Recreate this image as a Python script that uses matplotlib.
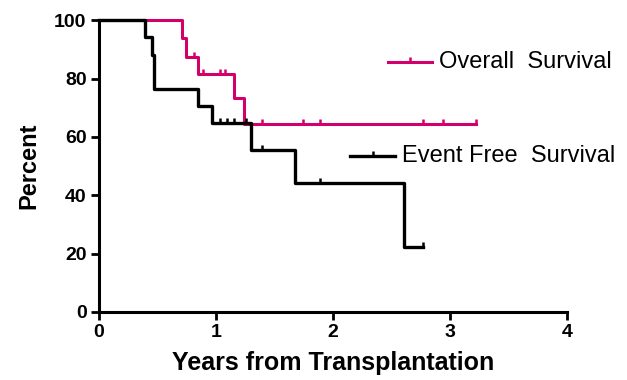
import matplotlib
matplotlib.use("Agg")
import matplotlib.pyplot as plt
from matplotlib.path import Path

# -----------------------
# Data
# -----------------------
# Overall survival: step times (years) and survival (%) after each step
os_times = [0.0, 0.71, 0.74, 0.85, 1.15, 1.24, 3.22]
os_surv = [100.0, 93.75, 87.5, 81.7, 73.2, 64.3, 64.3]
os_censor_t = [0.81, 0.89, 1.03, 1.08, 1.39, 1.74, 1.89, 2.77, 2.94, 3.22]

# Event free survival
efs_times = [0.0, 0.39, 0.45, 0.47, 0.85, 0.97, 1.30, 1.675, 2.61, 2.77]
efs_surv = [100.0, 94.1, 88.2, 76.5, 70.6, 64.7, 55.4, 44.2, 22.2, 22.2]
efs_censor_t = [1.03, 1.09, 1.15, 1.26, 1.39, 1.89, 2.77]

xticks = [0, 1, 2, 3, 4]
yticks = [0, 20, 40, 60, 80, 100]

pink = "#d1006b"
black = "#000000"


def surv_at(times, surv, t):
    val = surv[0]
    for ti, si in zip(times, surv):
        if ti <= t:
            val = si
    return val


# upward tick used for censored observations
up_tick = Path([(0, 0), (0, 1)], [Path.MOVETO, Path.LINETO])

plt.rcParams["font.family"] = ["Liberation Sans", "DejaVu Sans"]

fig = plt.figure(figsize=(6.27, 3.80), dpi=100)
ax = fig.add_axes([0.158, 0.179, 0.746, 0.768])

# curves
ax.step(os_times, os_surv, where="post", color=pink, lw=2.2, clip_on=False, zorder=3)
ax.step(efs_times, efs_surv, where="post", color=black, lw=2.4, clip_on=False, zorder=4)

# censor marks
ax.plot(os_censor_t, [surv_at(os_times, os_surv, t) for t in os_censor_t],
        ls="none", marker=up_tick, ms=7, mew=1.8, color=pink, clip_on=False, zorder=3)
ax.plot(efs_censor_t, [surv_at(efs_times, efs_surv, t) for t in efs_censor_t],
        ls="none", marker=up_tick, ms=7, mew=1.8, color=black, clip_on=False, zorder=4)

# legend entries (placed separately as in the original)
ax.plot([0.618, 0.712], [0.856, 0.856], transform=ax.transAxes, color=pink, lw=2.2, clip_on=False)
ax.plot([0.665], [0.856], transform=ax.transAxes, marker=up_tick, ms=7, mew=1.8, color=pink, clip_on=False)
ax.text(0.726, 0.856, "Overall  Survival", transform=ax.transAxes, fontsize=17,
        va="center", ha="left")

ax.plot([0.536, 0.632], [0.534, 0.534], transform=ax.transAxes, color=black, lw=2.4, clip_on=False)
ax.plot([0.585], [0.534], transform=ax.transAxes, marker=up_tick, ms=7, mew=1.8, color=black, clip_on=False)
ax.text(0.647, 0.534, "Event Free  Survival", transform=ax.transAxes, fontsize=17,
        va="center", ha="left")

# axes styling
ax.set_xlim(0, 4)
ax.set_ylim(0, 100)
ax.set_xticks(xticks)
ax.set_yticks(yticks)
ax.set_xticklabels([str(v) for v in xticks], fontweight="bold", fontsize=14)
ax.set_yticklabels([str(v) for v in yticks], fontweight="bold", fontsize=14)
ax.tick_params(direction="out", length=6, width=2, pad=3)
for side in ["top", "right"]:
    ax.spines[side].set_visible(False)
for side in ["left", "bottom"]:
    ax.spines[side].set_linewidth(2.2)

ax.set_xlabel("Years from Transplantation", fontweight="bold", fontsize=18, labelpad=7)
ax.set_ylabel("Percent", fontweight="bold", fontsize=17, labelpad=10)

fig.savefig("out.png", dpi=100)
